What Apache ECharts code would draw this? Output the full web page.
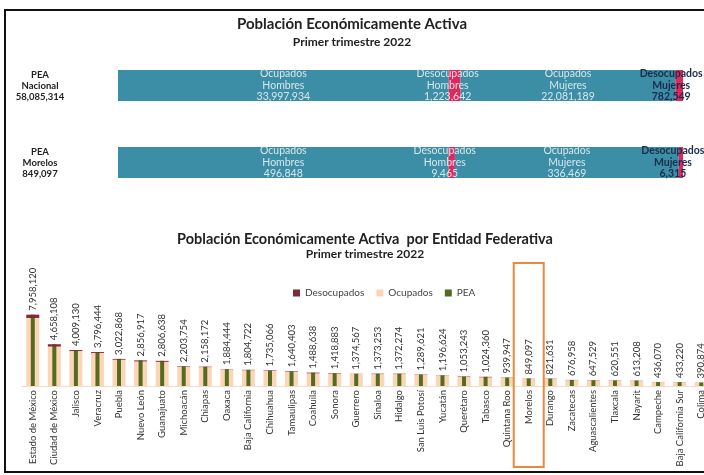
<!DOCTYPE html>
<html><head><meta charset="utf-8">
<script src="https://cdn.jsdelivr.net/npm/echarts@6/dist/echarts.min.js"></script>
<style>html,body{margin:0;padding:0;background:#fff}#c{width:704px;height:475px}</style>
</head><body><div id="c"></div>
<script>
// ---- Top section: PEA nacional vs Morelos ----
const topRows = ['Nacional', 'Morelos'];
const topPEA = [58085314, 849097];
const ocupHombres = [33997934, 496848];
const desocHombres = [1223642, 9465];
const ocupMujeres = [22081189, 336469];
const desocMujeres = [782549, 6315];
const segNames = ['Ocupados\nHombres', 'Desocupados\nHombres', 'Ocupados\nMujeres', 'Desocupados\nMujeres'];

// ---- Bottom section: PEA por entidad federativa ----
const estados = ['Estado de México','Ciudad de México','Jalisco','Veracruz','Puebla','Nuevo León','Guanajuato','Michoacán','Chiapas','Oaxaca','Baja California','Chihuahua','Tamaulipas','Coahuila','Sonora','Guerrero','Sinaloa','Hidalgo','San Luis Potosí','Yucatán','Querétaro','Tabasco','Quintana Roo','Morelos','Durango','Zacatecas','Aguascalientes','Tlaxcala','Nayarit','Campeche','Baja California Sur','Colima'];
const pea = [7958120,4658108,4009130,3796444,3022868,2856917,2806638,2203754,2158172,1884444,1804722,1735066,1640403,1488638,1418883,1374567,1373253,1372274,1289621,1196624,1053243,1024360,939947,849097,821631,676958,647529,620551,613208,436070,433220,390874];
const desocupados = [366000,256000,112000,106000,89000,111000,107000,55000,50000,28000,43000,52000,59000,74000,54000,19000,41000,40000,35000,25000,52000,54000,32000,15780,30000,18000,25000,26000,19000,12000,14000,11000];
const ocupados = [7592120,4402108,3897130,3690444,2933868,2745917,2699638,2148754,2108172,1856444,1761722,1683066,1581403,1414638,1364883,1355567,1332253,1332274,1254621,1171624,1001243,970360,907947,833317,791631,658958,622529,594551,594208,424070,419220,379874];
const highlight = 'Morelos';

const fmt = v => Number(v).toLocaleString('en-US');
const FONT = 'Lato, "Open Sans", sans-serif';
const NARROW = '"Liberation Sans Narrow", Lato, sans-serif';
const TEAL = '#3b8ea5', RED = '#e0285c';

const chart = echarts.init(document.getElementById('c'), null, {renderer: 'canvas'});

const grids = [
  {left: 22, right: -8, top: 265, bottom: 89, outerBoundsMode: 'none', containLabel: false},
  {left: 118, right: 21, top: 70, height: 31, outerBoundsMode: 'none', containLabel: false},
  {left: 118, right: 21, top: 147, height: 31, outerBoundsMode: 'none', containLabel: false}
];
const xAxes = [
  {type: 'category', gridIndex: 0, data: estados, axisTick: {show: false},
   axisLine: {lineStyle: {color: '#f3dcc8'}},
   axisLabel: {rotate: 90, interval: 0, fontSize: 9.5, fontFamily: NARROW, color: '#333', margin: 4}},
  {type: 'category', gridIndex: 0, data: estados, show: false}
];
const yAxes = [
  {type: 'value', gridIndex: 0, min: 0, max: 13500000, show: false, splitLine: {show: false}}
];
const series = [
  {name: 'Ocupados', type: 'bar', xAxisIndex: 0, yAxisIndex: 0, stack: 'b', barWidth: 13,
   itemStyle: {color: '#fbd6b6'}, data: ocupados},
  {name: 'PEA', type: 'bar', xAxisIndex: 1, yAxisIndex: 0, barWidth: 4,
   itemStyle: {color: '#556b1e'}, data: pea,
   label: {show: true, position: 'top', rotate: 90, align: 'left', verticalAlign: 'middle', distance: 4,
     fontSize: 9.5, fontFamily: NARROW, color: '#333', formatter: p => fmt(p.value)}},
  {name: 'Desocupados', type: 'bar', xAxisIndex: 0, yAxisIndex: 0, stack: 'b', barWidth: 13,
   itemStyle: {color: '#7e2a38'}, data: desocupados}
];

topRows.forEach((row, i) => {
  const gi = i + 1;
  xAxes.push({type: 'value', gridIndex: gi, min: 0, max: topPEA[i], show: false});
  yAxes.push({type: 'category', gridIndex: gi, data: ['PEA\n' + row + '\n' + fmt(topPEA[i])],
    axisLine: {show: false}, axisTick: {show: false},
    axisLabel: {align: 'center', margin: 78, fontSize: 9.5, fontWeight: 'bold', lineHeight: 11,
      fontFamily: FONT, color: '#222'}});
  const vals = [ocupHombres[i], desocHombres[i], ocupMujeres[i], desocMujeres[i]];
  vals.forEach((v, k) => {
    const isDes = k % 2 === 1;
    const lastDark = k === 3;
    series.push({
      name: segNames[k].replace('\n', ' ') + ' ' + row, type: 'bar', xAxisIndex: gi + 1, yAxisIndex: gi,
      stack: 'top' + i, barWidth: '100%', data: [v],
      itemStyle: {color: isDes ? RED : TEAL},
      label: {show: true, position: 'inside', fontFamily: FONT, fontSize: 10.5, lineHeight: 11.5,
        color: lastDark ? '#1a2c4c' : 'rgba(236,244,247,0.88)', fontWeight: lastDark ? 'bold' : 'normal',
        offset: isDes ? [lastDark ? -8 : -7, 0] : [0, 0],
        formatter: p => segNames[k] + '\n' + fmt(p.value)}
    });
  });
});

chart.setOption({
  animation: false,
  title: [
    {text: 'Población Económicamente Activa', subtext: 'Primer trimestre 2022', left: 'center', top: 12, itemGap: 4,
     textStyle: {fontFamily: FONT, fontSize: 15, fontWeight: 'bold', color: '#222'},
     subtextStyle: {fontFamily: FONT, fontSize: 12, fontWeight: 'bold', color: '#222'}},
    {text: 'Población Económicamente Activa  por Entidad Federativa', subtext: 'Primer trimestre 2022', left: 360, textAlign: 'center', top: 227, itemGap: 1,
     textStyle: {fontFamily: FONT, fontSize: 14.5, fontWeight: 'bold', color: '#222'},
     subtextStyle: {fontFamily: FONT, fontSize: 12, fontWeight: 'bold', color: '#222'}}
  ],
  legend: {data: ['Desocupados', 'Ocupados', 'PEA'], left: 288, top: 283, itemWidth: 7, itemHeight: 7, itemGap: 12,
    icon: 'rect', textStyle: {fontFamily: FONT, fontSize: 10, color: '#444'}},
  grid: grids, xAxis: xAxes, yAxis: yAxes, series: series
});

const cx = chart.convertToPixel({xAxisIndex: 0}, highlight);
chart.setOption({graphic: [
  {type: 'rect', shape: {x: 5, y: 10, width: 720, height: 462}, style: {fill: 'none', stroke: '#111', lineWidth: 2}, silent: true},
  {type: 'rect', shape: {x: cx - 15, y: 263, width: 30, height: 204}, style: {fill: 'none', stroke: '#e8893c', lineWidth: 2}, silent: true, z: 10}
]});
</script></body></html>
